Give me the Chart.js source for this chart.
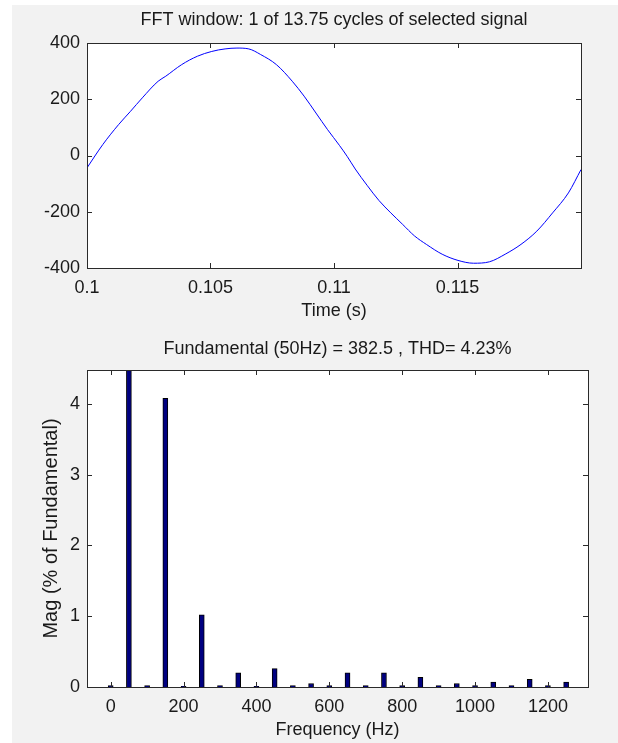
<!DOCTYPE html>
<html lang="en">
<head>
<meta charset="UTF-8">
<title>FFT analysis</title>
<script src="https://cdn.jsdelivr.net/npm/chart.js"></script>
<style>
  html, body { margin: 0; padding: 0; background: #fff; }
  #fig { position: absolute; left: 12px; top: 5px; width: 606px; height: 738px; background: #f2f2f2; }
  canvas { position: absolute; left: 0; }
  #signalChart { top: 0; }
  #fftChart { top: 330px; }
</style>
</head>
<body>
<div id="fig"></div>
<canvas id="signalChart" width="618" height="330"></canvas>
<canvas id="fftChart" width="618" height="413"></canvas>

<script>
// --- signal window (time in s, value) ---
const timeS = [0.1, 0.10064, 0.10128, 0.10176, 0.10224, 0.10288, 0.10319, 0.10383, 0.10447, 0.10505,
               0.10559, 0.10607, 0.10655, 0.10703, 0.10767, 0.10831, 0.10879, 0.10927, 0.10974, 0.11022,
               0.11054, 0.11086, 0.11134, 0.11182, 0.1123, 0.11278, 0.11326, 0.11374, 0.11438, 0.11502,
               0.11565, 0.11629, 0.11693, 0.11757, 0.11821, 0.11885, 0.11949, 0.12];
const voltage = [-44, 39, 110, 157, 205, 264, 282, 323, 353, 370,
                 379, 382, 379, 359, 323, 264, 211, 151, 92, 36,
                 -4, -48, -106, -160, -204, -245, -286, -316, -351, -373,
                 -383, -378, -351, -316, -269, -204, -133, -50];
const timeTicks = [0.1, 0.105, 0.11, 0.115];
const voltTicks = [-400, -200, 0, 200, 400];

// --- spectrum (Hz, % of fundamental) ---
const freqHz = [0, 50, 100, 150, 200, 250, 300, 350, 400, 450, 500, 550, 600,
                650, 700, 750, 800, 850, 900, 950, 1000, 1050, 1100, 1150, 1200, 1250];
const magPct = [0.02, 100, 0.02, 4.08, 0.01, 1.02, 0.02, 0.2, 0.01, 0.26, 0.02, 0.05, 0.02,
                0.2, 0.02, 0.2, 0.02, 0.135, 0.02, 0.05, 0.02, 0.07, 0.02, 0.11, 0.02, 0.07];
const freqTicks = [0, 200, 400, 600, 800, 1000, 1200];
const magTicks = [0, 1, 2, 3, 4];

const FONT = "'Liberation Sans', Arial, sans-serif";
Chart.defaults.font.family = FONT;
Chart.defaults.font.size = 18;
Chart.defaults.color = '#1a1a1a';

// white axes, box with inward ticks on all four sides, title centred on the axes
const matlabAxes = {
  id: 'matlabAxes',
  beforeDraw(chart) {
    const { ctx, chartArea: a } = chart;
    ctx.save();
    ctx.fillStyle = '#fff';
    ctx.fillRect(a.left, a.top, a.right - a.left, a.bottom - a.top);
    ctx.restore();
  },
  afterDraw(chart, args, opts) {
    const { ctx, chartArea: a, scales } = chart;
    const len = 5;
    ctx.save();
    ctx.strokeStyle = '#2a2a2a';
    ctx.lineWidth = 1;
    ctx.beginPath();
    scales.x.ticks.forEach(t => {
      const px = Math.round(scales.x.getPixelForValue(t.value)) + 0.5;
      ctx.moveTo(px, a.bottom); ctx.lineTo(px, a.bottom - len);
      ctx.moveTo(px, a.top); ctx.lineTo(px, a.top + len);
    });
    scales.y.ticks.forEach(t => {
      const py = Math.round(scales.y.getPixelForValue(t.value)) + 0.5;
      ctx.moveTo(a.left, py); ctx.lineTo(a.left + len, py);
      ctx.moveTo(a.right, py); ctx.lineTo(a.right - len, py);
    });
    ctx.stroke();
    ctx.strokeRect(Math.round(a.left) + 0.5, Math.round(a.top) + 0.5,
                   Math.round(a.right - a.left), Math.round(a.bottom - a.top));
    ctx.fillStyle = '#1a1a1a';
    ctx.font = '18px ' + FONT;
    ctx.textAlign = 'center';
    ctx.textBaseline = 'middle';
    ctx.fillText(opts.title, (a.left + a.right) / 2, opts.titleY);
    ctx.restore();
  }
};

function fixedTicks(list) {
  return scale => { scale.ticks = list.map(v => ({ value: v })); };
}

new Chart(document.getElementById('signalChart'), {
  type: 'line',
  data: {
    datasets: [{
      data: timeS.map((t, i) => ({ x: t, y: voltage[i] })),
      borderColor: '#0000ff',
      borderWidth: 1,
      pointRadius: 0,
      cubicInterpolationMode: 'monotone',
      fill: false
    }]
  },
  options: {
    responsive: false,
    animation: false,
    layout: { padding: { top: 43, right: 37, left: 0, bottom: 0 } },
    plugins: {
      legend: { display: false },
      tooltip: { enabled: false },
      matlabAxes: { title: 'FFT window: 1 of 13.75 cycles of selected signal', titleY: 20 }
    },
    scales: {
      x: {
        type: 'linear', min: 0.1, max: 0.12,
        afterBuildTicks: fixedTicks(timeTicks),
        ticks: { padding: 9, maxRotation: 0, autoSkip: false, callback: v => String(v) },
        grid: { display: false, drawTicks: false },
        border: { display: false },
        title: { display: true, text: 'Time (s)', padding: { top: 0, bottom: 8 } },
        afterFit: s => { s.height = 62; }
      },
      y: {
        min: -400, max: 400,
        afterBuildTicks: fixedTicks(voltTicks),
        ticks: { padding: 7, callback: v => String(v) },
        grid: { display: false, drawTicks: false },
        border: { display: false },
        afterFit: s => { s.width = 87; }
      }
    }
  },
  plugins: [matlabAxes]
});

new Chart(document.getElementById('fftChart'), {
  type: 'bar',
  data: {
    datasets: [{
      data: freqHz.map((f, i) => ({ x: f, y: magPct[i] })),
      backgroundColor: '#000080',
      borderColor: '#000000',
      borderWidth: 1,
      barThickness: 5
    }]
  },
  options: {
    responsive: false,
    animation: false,
    layout: { padding: { top: 40, right: 30, left: 0, bottom: 0 } },
    plugins: {
      legend: { display: false },
      tooltip: { enabled: false },
      matlabAxes: { title: 'Fundamental (50Hz) = 382.5 , THD= 4.23%', titleY: 19 }
    },
    scales: {
      x: {
        type: 'linear', min: -65, max: 1310, offset: false,
        afterBuildTicks: fixedTicks(freqTicks),
        ticks: { padding: 9, maxRotation: 0, autoSkip: false, callback: v => String(v) },
        grid: { display: false, drawTicks: false, offset: false },
        border: { display: false },
        title: { display: true, text: 'Frequency (Hz)', padding: { top: 0, bottom: 2 } },
        afterFit: s => { s.height = 56; }
      },
      y: {
        min: 0, max: 4.48,
        afterBuildTicks: fixedTicks(magTicks),
        ticks: { padding: 7, callback: v => String(v) },
        grid: { display: false, drawTicks: false },
        border: { display: false },
        title: {
          display: true, text: 'Mag (% of Fundamental)',
          font: { family: FONT, size: 20 },
          padding: { top: 39, bottom: 0 }
        },
        afterFit: s => { s.width = 87; }
      }
    }
  },
  plugins: [matlabAxes]
});
</script>
</body>
</html>
